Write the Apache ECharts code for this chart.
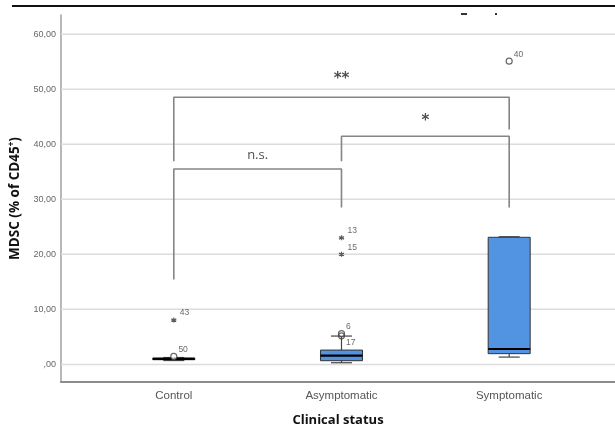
<!DOCTYPE html>
<html>
<head>
<meta charset="utf-8">
<script src="https://cdn.jsdelivr.net/npm/echarts@6/dist/echarts.min.js"></script>
<style>html,body{margin:0;padding:0;background:#fff;}#c{width:615px;height:434px;}</style>
</head>
<body>
<div id="c"></div>
<script>
// ---- data ----
var categories = ['Control', 'Asymptomatic', 'Symptomatic'];
// [min, Q1, median, Q3, max]
var boxStats = [
  [0.7, 0.85, 1.0, 1.15, 1.25],
  [0.3, 0.67, 1.6, 2.6, 5.15],
  [1.33, 1.95, 2.8, 23.1, 23.2]
];
// outliers: [categoryIndex, value, id]
var circleOutliers = [[0, 1.45, '50'], [1, 5.6, '6'], [2, 55.1, '40']];
var circleOutliersBelow = [[1, 5.2, '17']];
var starOutliers = [[0, 8.05, '43'], [1, 23.0, '13'], [1, 20.0, '15']];
var yTicks = [0, 10, 20, 30, 40, 50, 60];
// significance brackets: [xStart, yStartBottom, yTop, xEnd, yEndBottom]
var brackets = [
  [0, 15.45, 35.5, 1, 28.5],
  [1, 36.9, 41.45, 2, 28.5],
  [0, 36.9, 48.55, 2, 42.7]
];
var sigLabels = [[0.5, 38.0, 'n.s.', 'normal'], [1.5, 44.2, '*', 'bold'], [1.0, 51.8, '**', 'bold']];

var chart = echarts.init(document.getElementById('c'));
var FONT = 'Liberation Sans, Arial, sans-serif';

function fmtY(v) {
  if (v === 0) return ',00';
  return v.toFixed(2).replace('.', ',');
}

var bracketSeries = brackets.map(function (b) {
  return {
    type: 'line', silent: true, symbol: 'none', animation: false,
    data: [[b[0], b[1]], [b[0], b[2]], [b[3], b[2]], [b[3], b[4]]],
    lineStyle: { color: '#858585', width: 1.6 },
    z: 3
  };
});

var starPath = 'path://M5 0 L5 10 M0.67 2.5 L9.33 7.5 M0.67 7.5 L9.33 2.5';

var option = {
  animation: false,
  backgroundColor: '#fff',
  grid: { left: 60, right: 0, top: 15, bottom: 52 },
  xAxis: {
    type: 'value', min: -0.6726, max: 2.631,
    splitLine: { show: false },
    axisTick: { show: false },
    axisLine: { show: true, onZero: false, lineStyle: { color: '#8c8c8c', width: 2 } },
    axisLabel: {
      customValues: [0, 1, 2],
      formatter: function (v) { return categories[Math.round(v)]; },
      color: '#555', fontSize: 11.5, fontFamily: FONT, margin: 8
    },
    name: 'Clinical status',
    nameLocation: 'middle', nameGap: 32,
    nameTextStyle: { color: '#111', fontSize: 13, fontWeight: 'bold', fontFamily: 'Open Sans, Liberation Sans, sans-serif' }
  },
  yAxis: {
    type: 'value', min: -3.2, max: 63.5,
    splitLine: { show: false },
    axisTick: { show: false },
    axisLine: { show: true, onZero: false, lineStyle: { color: '#a0a0a0', width: 1.5 } },
    axisLabel: {
      customValues: yTicks,
      formatter: fmtY,
      color: '#666', fontSize: 9, fontFamily: FONT, margin: 5
    },
    name: 'MDSC (% of CD45{sup|+})',
    nameLocation: 'middle', nameGap: 38, nameRotate: 90,
    nameTextStyle: {
      color: '#111', fontSize: 13.5, fontWeight: 'bold', fontFamily: 'Open Sans, Liberation Sans, sans-serif',
      rich: { sup: { fontSize: 8, fontWeight: 'bold', verticalAlign: 'top', padding: [0, 0, 7, 0], fontFamily: 'Open Sans, Liberation Sans, sans-serif', color: '#111' } }
    }
  },
  graphic: [
    { type: 'line', shape: { x1: 12, y1: 6, x2: 615, y2: 6 }, style: { stroke: '#111', lineWidth: 2 } },
    { type: 'rect', shape: { x: 461, y: 13, width: 6, height: 2 }, style: { fill: '#333' } },
    { type: 'rect', shape: { x: 495, y: 13, width: 2, height: 2 }, style: { fill: '#333' } }
  ],
  series: [
    {
      type: 'custom', silent: true, z: 1,
      data: yTicks.map(function (t) { return [0, t]; }),
      renderItem: function (params, api) {
        var cs = params.coordSys;
        var p = api.coord([0, api.value(1)]);
        return { type: 'line', shape: { x1: cs.x, y1: p[1], x2: cs.x + cs.width, y2: p[1] }, style: { stroke: '#dcdcdc', lineWidth: 1.5 } };
      }
    },
    {
      type: 'custom', silent: true, z: 4,
      data: boxStats.map(function (s, i) { return [i].concat(s); }),
      renderItem: function (params, api) {
        var x = api.value(0);
        var pMin = api.coord([x, api.value(1)]);
        var pQ1 = api.coord([x, api.value(2)]);
        var pMed = api.coord([x, api.value(3)]);
        var pQ3 = api.coord([x, api.value(4)]);
        var pMax = api.coord([x, api.value(5)]);
        var cx = pMin[0], bw = 42, cw = 21;
        var stroke = '#444';
        return {
          type: 'group',
          children: [
            { type: 'line', shape: { x1: cx, y1: pMin[1], x2: cx, y2: pQ1[1] }, style: { stroke: stroke, lineWidth: 1.2 } },
            { type: 'line', shape: { x1: cx, y1: pQ3[1], x2: cx, y2: pMax[1] }, style: { stroke: stroke, lineWidth: 1.2 } },
            { type: 'line', shape: { x1: cx - cw / 2, y1: pMin[1], x2: cx + cw / 2, y2: pMin[1] }, style: { stroke: stroke, lineWidth: 1.2 } },
            { type: 'line', shape: { x1: cx - cw / 2, y1: pMax[1], x2: cx + cw / 2, y2: pMax[1] }, style: { stroke: stroke, lineWidth: 1.2 } },
            { type: 'rect', shape: { x: cx - bw / 2, y: pQ3[1], width: bw, height: Math.max(pQ1[1] - pQ3[1], 1) }, style: { fill: '#5294e2', stroke: '#333', lineWidth: 1 } },
            { type: 'line', shape: { x1: cx - bw / 2, y1: pMed[1], x2: cx + bw / 2, y2: pMed[1] }, style: { stroke: '#000', lineWidth: 2.2 } }
          ]
        };
      }
    },
    {
      type: 'scatter', silent: true, z: 5,
      data: circleOutliers.map(function (o) { return [o[0], o[1], o[2]]; }),
      symbol: 'circle', symbolSize: 6,
      itemStyle: { color: '#fff', borderColor: '#444', borderWidth: 1.2 },
      label: { show: true, position: 'right', distance: 1, offset: [0, -7], formatter: function (p) { return p.value[2]; }, color: '#444', fontSize: 8.5, fontFamily: FONT }
    },
    {
      type: 'scatter', silent: true, z: 5,
      data: circleOutliersBelow.map(function (o) { return [o[0], o[1], o[2]]; }),
      symbol: 'circle', symbolSize: 6,
      itemStyle: { color: 'rgba(0,0,0,0)', borderColor: '#444', borderWidth: 1.2 },
      label: { show: true, position: 'right', distance: 1, offset: [0, 7], formatter: function (p) { return p.value[2]; }, color: '#444', fontSize: 8.5, fontFamily: FONT }
    },
    {
      type: 'scatter', silent: true, z: 5,
      data: starOutliers.map(function (o) { return [o[0], o[1], o[2]]; }),
      symbol: starPath, symbolSize: 5,
      itemStyle: { color: 'none', borderColor: '#333', borderWidth: 1.2 },
      label: { show: true, position: 'right', distance: 1, offset: [0, -7], formatter: function (p) { return p.value[2]; }, color: '#444', fontSize: 8.5, fontFamily: FONT }
    },
    {
      type: 'scatter', silent: true, z: 6,
      data: sigLabels.map(function (s) { return [s[0], s[1], s[2], s[3]]; }),
      symbolSize: 0,
      label: {
        show: true, position: 'inside',
        formatter: function (p) { return p.value[3] === 'bold' ? '{b|' + p.value[2] + '}' : p.value[2]; },
        color: '#222', fontSize: 13, fontFamily: 'Open Sans, Liberation Sans, sans-serif',
        rich: { b: { fontSize: 15, fontWeight: 'bold', color: '#222', fontFamily: 'DejaVu Sans, sans-serif' } }
      }
    }
  ].concat(bracketSeries)
};
chart.setOption(option);
</script>
</body>
</html>
